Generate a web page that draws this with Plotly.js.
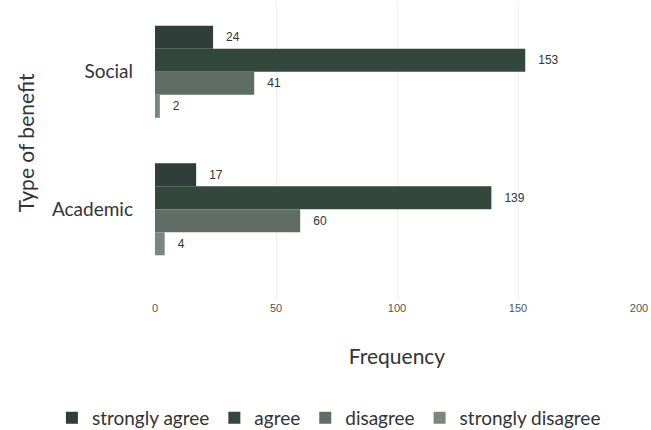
<!DOCTYPE html>
<html>
<head>
<meta charset="utf-8">
<script src="https://cdn.plot.ly/plotly-3.0.1.min.js"></script>
<style>
  html, body { margin: 0; padding: 0; background: #ffffff; }
  #chart { width: 651px; height: 430px; }
</style>
</head>
<body>
<div id="chart"></div>
<script>
// Benefit categories (top to bottom)
const categories = ['Social', 'Academic'];

// Response counts per category
const stronglyAgree = [24, 17];
const agree = [153, 139];
const disagree = [41, 60];
const stronglyDisagree = [2, 4];

const seriesNames = ['strongly agree', 'agree', 'disagree', 'strongly disagree'];
const seriesValues = [stronglyAgree, agree, disagree, stronglyDisagree];
const seriesColors = ['#2f3e38', '#34473d', '#5f6d66', '#7a8781'];

const xTickValues = [0, 50, 100, 150, 200];

const labelFont = 'Lato, Noto Sans, sans-serif';
const numberFont = 'Liberation Sans, Arial, sans-serif';

const traces = seriesNames.map((name, i) => ({
  type: 'bar',
  orientation: 'h',
  name: name,
  y: categories,
  x: seriesValues[i],
  marker: { color: seriesColors[i], line: { width: 0 } },
  // value labels sit a little to the right of each bar end
  text: seriesValues[i].map(v => '\u00a0\u00a0\u00a0' + v),
  textposition: 'outside',
  textfont: { family: numberFont, size: 12, color: '#333333' },
  cliponaxis: false,
  hoverinfo: 'skip'
}));

const layout = {
  width: 651,
  height: 430,
  paper_bgcolor: '#ffffff',
  plot_bgcolor: '#ffffff',
  margin: { l: 155, r: 12, t: 3, b: 130, autoexpand: false },
  barmode: 'group',
  bargap: 0.33,
  bargroupgap: 0,
  showlegend: true,
  font: { family: labelFont, color: '#333333' },
  xaxis: {
    range: [0, 200],
    tickvals: xTickValues,
    ticktext: xTickValues.map(String),
    showgrid: true,
    gridcolor: '#efefef',
    gridwidth: 1,
    zeroline: false,
    showline: false,
    ticks: '',
    tickfont: { family: numberFont, size: 11, color: '#555555' },
    title: { text: 'Frequency', font: { family: labelFont, size: 21, color: '#333333' }, standoff: 36 }
  },
  yaxis: {
    type: 'category',
    range: [1.66, -0.5],
    showgrid: false,
    zeroline: false,
    showline: false,
    ticks: '',
    ticklabelstandoff: 21,
    tickfont: { family: labelFont, size: 19, color: '#333333' }
  },
  annotations: [{
    text: 'Type of benefit',
    textangle: -90,
    xref: 'paper',
    yref: 'paper',
    x: -0.268,
    y: 0.5286,
    xanchor: 'center',
    yanchor: 'middle',
    showarrow: false,
    font: { family: labelFont, size: 21, color: '#333333' }
  }],
  legend: {
    orientation: 'h',
    x: -0.213,
    xanchor: 'left',
    y: -0.397,
    yanchor: 'middle',
    itemwidth: 30,
    font: { family: labelFont, size: 19, color: '#333333' },
    bgcolor: 'rgba(0,0,0,0)'
  }
};

Plotly.newPlot('chart', traces, layout, { displayModeBar: false, staticPlot: true });
</script>
</body>
</html>
